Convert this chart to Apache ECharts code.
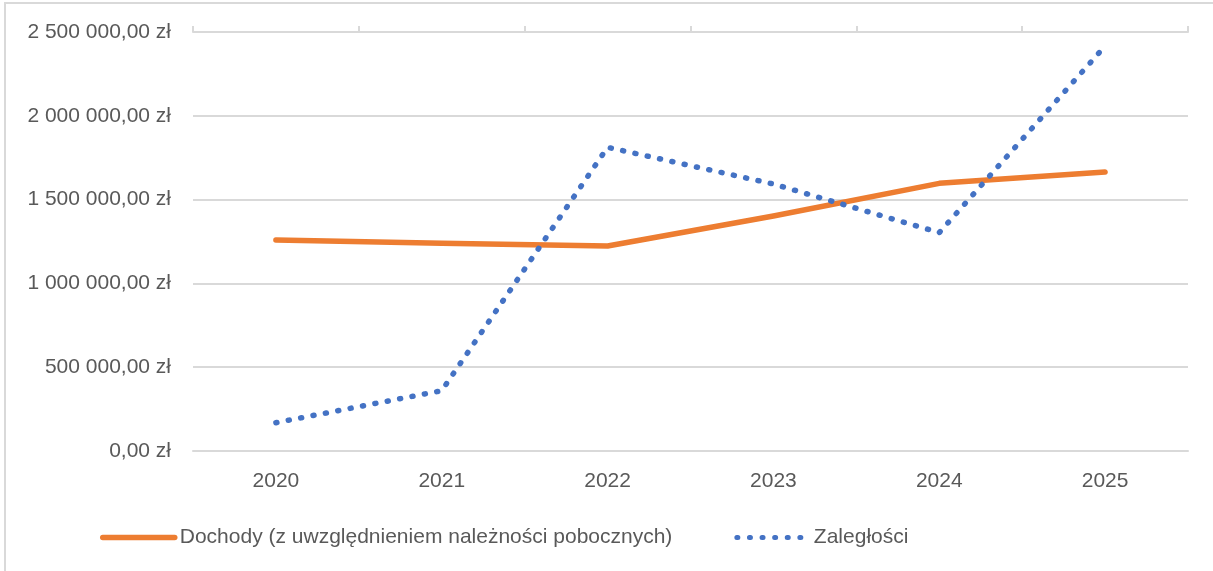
<!DOCTYPE html>
<html>
<head>
<meta charset="utf-8">
<script src="https://cdn.jsdelivr.net/npm/echarts@6/dist/echarts.min.js"></script>
<style>
html,body{margin:0;padding:0;background:#fff;}
#c{width:1213px;height:571px;}
</style>
</head>
<body>
<div id="c"></div>
<script>
const categories = ['2020', '2021', '2022', '2023', '2024', '2025'];
const dochody = [1259000, 1239000, 1223000, 1402000, 1597000, 1665000];
const zaleglosci = [169000, 360000, 1812000, 1593000, 1303000, 2416000];
const seriesNames = ['Dochody (z uwzględnieniem należności pobocznych)', 'Zaległości'];
const yTicks = { min: 0, max: 2500000, interval: 500000 };

function fmt(v) {
  const s = Math.round(v).toString().replace(/\B(?=(\d{3})+(?!\d))/g, ' ');
  return s + ',00 zł';
}

const chart = echarts.init(document.getElementById('c'), null, { renderer: 'canvas' });
const FONT = 'Liberation Sans';
const GRAY = '#595959';
const LINE = '#d9d9d9';
const ORANGE = '#ED7D31';
const BLUE = '#4472C4';
const DOTS = [1, 11.6];

chart.setOption({
  animation: false,
  backgroundColor: '#fff',
  textStyle: { fontFamily: FONT },
  graphic: [
    { type: 'rect', shape: { x: 5, y: 3, width: 1260, height: 620 }, style: { fill: 'none', stroke: '#d9d9d9', lineWidth: 2 }, silent: true, z: -1 }
  ],
  grid: { left: 193, right: 25, top: 32, bottom: 120, containLabel: false },
  legend: {
    left: 95, top: 522,
    itemWidth: 72, itemHeight: 18, itemGap: 62,
    textStyle: { fontFamily: FONT, fontSize: 21, color: GRAY },
    itemStyle: { opacity: 0 },
    data: [
      { name: seriesNames[0], lineStyle: { width: 5.5, color: ORANGE, cap: 'round' } },
      { name: seriesNames[1], lineStyle: { width: 5, color: BLUE, type: DOTS, cap: 'round' } }
    ]
  },
  xAxis: [
    {
      type: 'category', data: categories, boundaryGap: true, position: 'bottom',
      axisLine: { show: true, lineStyle: { color: LINE, width: 2 } },
      axisTick: { show: false },
      axisLabel: { fontFamily: FONT, fontSize: 21, color: GRAY, margin: 20 }
    },
    {
      type: 'category', data: categories, boundaryGap: true, position: 'top',
      axisLine: { show: true, lineStyle: { color: LINE, width: 2 } },
      axisTick: { show: true, length: 6, lineStyle: { color: LINE, width: 2 } },
      axisLabel: { show: false }
    }
  ],
  yAxis: {
    type: 'value', min: yTicks.min, max: yTicks.max, interval: yTicks.interval,
    axisLine: { show: false }, axisTick: { show: false },
    splitLine: { lineStyle: { color: LINE, width: 2 } },
    axisLabel: { fontFamily: FONT, fontSize: 21, color: GRAY, margin: 22, formatter: fmt }
  },
  series: [
    {
      name: seriesNames[0], type: 'line', data: dochody, xAxisIndex: 0,
      symbol: 'none', smooth: false,
      lineStyle: { color: ORANGE, width: 5.5, cap: 'round', join: 'round' },
      itemStyle: { color: ORANGE }
    },
    {
      name: seriesNames[1], type: 'line', data: zaleglosci, xAxisIndex: 0,
      symbol: 'none', smooth: false,
      lineStyle: { color: BLUE, width: 5.5, type: DOTS, cap: 'round', join: 'round' },
      itemStyle: { color: BLUE }
    }
  ]
});
</script>
</body>
</html>
